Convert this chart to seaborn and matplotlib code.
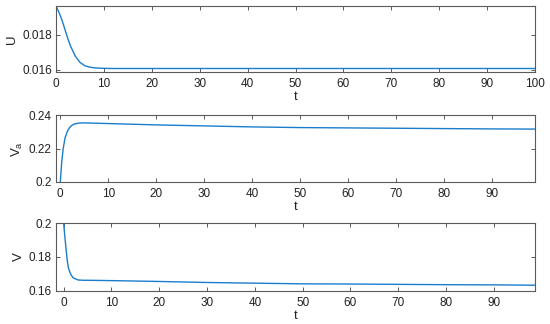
import numpy as np
import pandas as pd
import matplotlib
matplotlib.use("Agg")
import matplotlib.pyplot as plt
import seaborn as sns
from matplotlib.ticker import FuncFormatter

# values
t_u = [0, 0.5, 1, 1.5, 2, 2.5, 3, 4, 5, 6, 7, 8, 9, 10, 12, 15, 20, 30, 40, 50, 60, 70, 80, 90, 100]
u = [0.01963, 0.01935, 0.01902, 0.01862, 0.01818, 0.01775, 0.01737, 0.01678, 0.01641, 0.01622,
     0.01614, 0.01610, 0.01608, 0.01607, 0.01606, 0.01606, 0.01606, 0.01606, 0.01606, 0.01606,
     0.01606, 0.01606, 0.01606, 0.01606, 0.01606]

t_va = [0, 0.3, 0.6, 1.0, 1.5, 2, 2.5, 3, 4, 5, 10, 20, 30, 40, 50, 60, 70, 80, 90, 99]
va = [0.2, 0.212, 0.2200, 0.2265, 0.2305, 0.2328, 0.2340, 0.2347, 0.2352, 0.2353, 0.2349,
      0.2341, 0.2335, 0.2329, 0.2325, 0.2323, 0.2321, 0.2319, 0.2317, 0.2316]

t_v = [0, 0.25, 0.5, 0.75, 1.0, 1.5, 2, 3, 4, 5, 10, 20, 30, 40, 50, 60, 70, 80, 90, 98.6]
v = [0.2, 0.192, 0.185, 0.178, 0.1735, 0.1697, 0.1677, 0.1665, 0.1663, 0.1663, 0.1661,
     0.1656, 0.1650, 0.1646, 0.1642, 0.1641, 0.1639, 0.1637, 0.1636, 0.1634]

panels = [
    (t_u, u, "U", (0, 100), (0.01586, 0.01964), [0.016, 0.018], list(range(0, 101, 10))),
    (t_va, va, "V$_\\mathregular{a}$", (-0.9, 98.9), (0.2, 0.24), [0.2, 0.22, 0.24], list(range(0, 91, 10))),
    (t_v, v, "V", (-1.6, 98.6), (0.16, 0.2), [0.16, 0.18, 0.2], list(range(0, 91, 10))),
]

sns.set_style("ticks")
plt.rcParams["font.family"] = ["Liberation Sans", "DejaVu Sans"]
plt.rcParams["mathtext.fontset"] = "custom"
plt.rcParams["mathtext.rm"] = "Liberation Sans"

fig = plt.figure(figsize=(5.5, 3.24), dpi=100)
boxes = [[0.1018, 0.7778, 0.871, 0.2037],
         [0.1018, 0.4383, 0.871, 0.2067],
         [0.1018, 0.1019, 0.871, 0.2098]]

edge = "#5a5a5a"
for (tt, yy, lab, xl, yl, yt, xt), box in zip(panels, boxes):
    ax = fig.add_axes(box)
    df = pd.DataFrame({"t": tt, "y": yy})
    sns.lineplot(data=df, x="t", y="y", ax=ax, color="#1a7dcc", linewidth=1.0)
    ax.set_xlim(*xl)
    ax.set_ylim(*yl)
    ax.set_xticks(xt)
    ax.set_yticks(yt)
    ax.yaxis.set_major_formatter(FuncFormatter(lambda val, pos: f"{val:g}"))
    ax.tick_params(direction="in", length=3, width=0.7, top=True, right=True,
                   labelsize=8.5, colors=edge, labelcolor="#222222")
    ax.tick_params(axis="x", pad=4)
    ax.tick_params(axis="y", pad=3)
    for s in ax.spines.values():
        s.set_color(edge)
        s.set_linewidth(0.8)
    ax.set_xlabel("t", fontsize=9.5, labelpad=1, color="#222222")
    ax.set_ylabel(lab, fontsize=9.5, labelpad=3, color="#222222")

fig.savefig("out.png", dpi=100)
